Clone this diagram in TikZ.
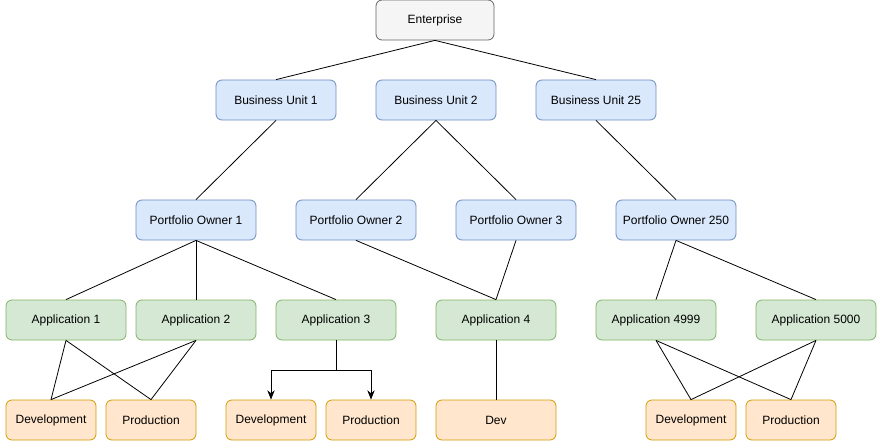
\documentclass[tikz,border=0pt]{standalone}
\usepackage{fontspec}
\setmainfont{Liberation Sans}
\usetikzlibrary{arrows.meta}
\definecolor{grayfill}{HTML}{F5F5F5}
\definecolor{graydraw}{HTML}{666666}
\definecolor{bluefill}{HTML}{DAE8FC}
\definecolor{bluedraw}{HTML}{6C8EBF}
\definecolor{greenfill}{HTML}{D5E8D4}
\definecolor{greendraw}{HTML}{82B366}
\definecolor{orangefill}{HTML}{FFE6CC}
\definecolor{orangedraw}{HTML}{D79B00}
\begin{document}
\begin{tikzpicture}[x=0.75pt, y=-0.75pt, font=\fontsize{9}{11}\selectfont,
    box/.style={draw, rounded corners=4.5pt, minimum width=90pt, minimum height=30pt, inner sep=0pt, line width=0.6pt},
    enode/.style={box, fill=grayfill, draw=graydraw, minimum width=88.5pt},
    bnode/.style={box, fill=bluefill, draw=bluedraw},
    anode/.style={box, fill=greenfill, draw=greendraw},
    dnode/.style={box, fill=orangefill, draw=orangedraw, minimum width=67.5pt},
    link/.style={line width=0.6pt}]
    \useasboundingbox (0,0) rectangle (883,443);

    \node[enode] (ent) at (435, 20) {Enterprise};

    \node[bnode] (bu1) at (276, 100) {Business Unit 1};
    \node[bnode] (bu2) at (436, 100) {Business Unit 2};
    \node[bnode] (bu25) at (596, 100) {Business Unit 25};

    \node[bnode] (po1) at (196, 220) {Portfolio Owner 1};
    \node[bnode] (po2) at (356, 220) {Portfolio Owner 2};
    \node[bnode] (po3) at (516, 220) {Portfolio Owner 3};
    \node[bnode] (po250) at (676, 220) {Portfolio Owner 250};

    \node[anode] (a1) at (66, 320) {Application 1};
    \node[anode] (a2) at (196, 320) {Application 2};
    \node[anode] (a3) at (336, 320) {Application 3};
    \node[anode] (a4) at (496, 320) {Application 4};
    \node[anode] (a4999) at (656, 320) {Application 4999};
    \node[anode] (a5000) at (816, 320) {Application 5000};

    \node[dnode] (d1) at (51, 420) {Development};
    \node[dnode] (p1) at (151, 420) {Production};
    \node[dnode] (d3) at (271, 420) {Development};
    \node[dnode] (p3) at (371, 420) {Production};
    \node[dnode, minimum width=90pt] (d4) at (496, 420) {Dev};
    \node[dnode] (d5) at (691, 420) {Development};
    \node[dnode] (p5) at (791, 420) {Production};

    \coordinate (j3) at (336, 370);

    \begin{scope}[link]
    \draw (ent.south) -- (bu1.north);
    \draw (ent.south) -- (bu25.north);
    \draw (bu1.south) -- (po1.north);
    \draw (bu2.south) -- (po2.north);
    \draw (bu2.south) -- (po3.north);
    \draw (bu25.south) -- (po250.north);
    \draw (po1.south) -- (a1.north);
    \draw (po1.south) -- (a2.north);
    \draw (po1.south) -- (a3.north);
    \draw (po2.south) -- (a4.north);
    \draw (po3.south) -- (a4.north);
    \draw (po250.south) -- (a4999.north);
    \draw (po250.south) -- (a5000.north);
    \draw (a1.south) -- (d1.north);
    \draw (a1.south) -- (p1.north);
    \draw (a2.south) -- (d1.north);
    \draw (a2.south) -- (p1.north);
    \draw (a4.south) -- (d4.north);
    \draw (a4999.south) -- (d5.north);
    \draw (a4999.south) -- (p5.north);
    \draw (a5000.south) -- (d5.north);
    \draw (a5000.south) -- (p5.north);
    \draw (a3.south) -- (j3);
    \draw[-{Stealth[length=7pt, width=5.5pt]}] (j3) -| (d3.north);
    \draw[-{Stealth[length=7pt, width=5.5pt]}] (j3) -| (p3.north);
    \end{scope}
\end{tikzpicture}
\end{document}
